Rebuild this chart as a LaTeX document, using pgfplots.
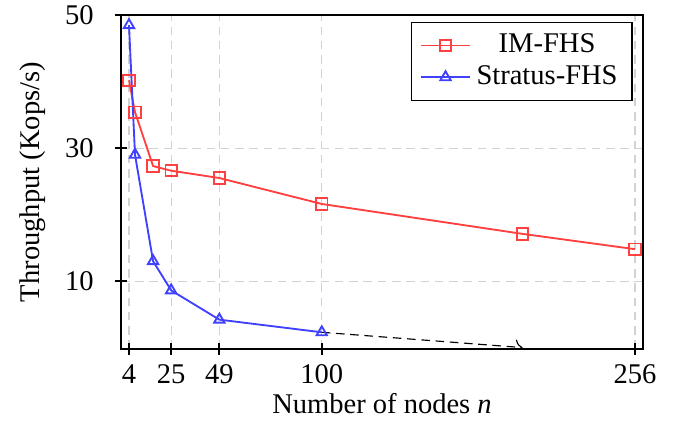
\documentclass[border=0pt]{standalone}
\usepackage{fontspec}
\setmainfont{Liberation Serif}
\usepackage{pgfplots}
\pgfplotsset{compat=1.18}
\usetikzlibrary{arrows.meta}

\definecolor{imred}{RGB}{255,64,64}
\definecolor{stblue}{RGB}{64,64,255}

\begin{document}
\begin{tikzpicture}
% page size fixed round the axis box, as in the reference
\useasboundingbox (-42.4pt,-25.2pt) rectangle (194.2pt,122.3pt);
\begin{axis}[
  at={(0,0)}, anchor=south west,
  width=183pt, height=117pt, scale only axis,
  xmin=0, xmax=260, ymin=-0.2, ymax=50,
  xtick={4,25,49,100,256}, ytick={10,30,50},
  /pgf/number format/assume math mode=true,
  xtick pos=left, ytick pos=left, tick align=center,
  major tick length=4pt,
  every tick/.style={black, line width=0.7pt},
  axis line style={line width=0.6pt},
  grid=major,
  major grid style={gray!35, dash pattern=on 3pt off 2pt, line width=0.4pt},
  yticklabel style={xshift=-4pt},
  xlabel={Number of nodes \textit{n}},
  ylabel={Throughput (Kops/s)},
  xlabel style={yshift=3.5pt},
  legend style={at={(0.98,0.98)}, anchor=north east, draw=black,
    line width=0.5pt, font=\normalsize, row sep=-1pt},
  legend cell align=center,
]
\addplot[imred, line width=0.65pt, mark=square, mark size=2pt,
  mark options={solid, line width=0.65pt}]
  coordinates {(4,40.2) (7,35.4) (16,27.3) (25,26.6) (49,25.5) (100,21.6) (200,17.1) (256,14.8)};
\addlegendentry{IM-FHS}
\addplot[stblue, line width=0.65pt, mark=triangle, mark size=2.1pt,
  mark options={solid, line width=0.65pt}]
  coordinates {(4,48.5) (7,29.0) (16,13.0) (25,8.6) (49,4.2) (100,2.3)};
\addlegendentry{Stratus-FHS}
\addplot[black, dash pattern=on 3pt off 2pt, line width=0.4pt,
  -{To[length=2.5pt]}, forget plot]
  coordinates {(100,2.3) (200,0)};
\end{axis}
\end{tikzpicture}
\end{document}
